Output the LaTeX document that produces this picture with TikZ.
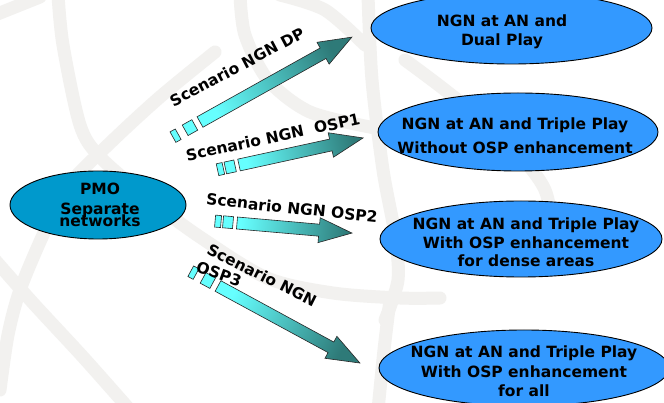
\documentclass[tikz,border=0pt]{standalone}
\usepackage{fontspec}
\setmainfont{DejaVu Sans}
\usetikzlibrary{shapes.geometric}
\definecolor{ellblue}{RGB}{51,153,255}
\definecolor{pmoblue}{RGB}{0,153,204}
\definecolor{arrcyan}{RGB}{102,255,255}
\definecolor{arrteal}{RGB}{46,122,120}
\definecolor{bgband}{RGB}{242,241,239}
\tikzset{
  ell/.style={ellipse, draw=black, line width=0.9pt, fill=ellblue, inner sep=0pt},
  pmo/.style={ell, fill=pmoblue},
  etext/.style={inner sep=0pt, align=center, font=\fontsize{15.5}{18.5}\selectfont\bfseries},
  lbl/.style={inner sep=0pt, font=\fontsize{15.5}{18.5}\selectfont\bfseries},
  arrbody/.style={left color=arrcyan, right color=arrteal, draw=black!85, line width=0.6pt, line join=miter},
  arrsq/.style={fill=arrcyan, draw=black!85, line width=0.6pt},
  band/.style={draw=bgband, line width=13pt, line cap=round}
}
\newcommand\scnarrow[8]{%
\begin{scope}[shift={(#1)},rotate=#2]
 \shadedraw[arrbody,shading angle=#8] (0,-6) -- ({#3-33},-6) -- ({#3-33},-12.5) -- (#3,0) -- ({#3-33},12.5) -- ({#3-33},6) -- (0,6) -- cycle;
 \draw[arrsq] (#4,-6) rectangle (#5,6);
 \draw[arrsq] (#6,-6) rectangle (#7,6);
\end{scope}}
\begin{document}
\begin{tikzpicture}[x=1pt,y=-1pt]
\useasboundingbox (0,0) rectangle (664,403);
\clip (0,0) rectangle (664,403);
\fill[white] (0,0) rectangle (664,403);
% watermark bands
\draw[band] plot[smooth] coordinates {(58,-5) (63,45) (80,125) (100,157) (150,200) (200,237) (267,278) (333,293) (400,298) (440,298)};
\draw[band] plot[smooth] coordinates {(215,52) (160,97) (110,143) (67,187) (43,235) (20,290) (8,335) (0,390)};
\draw[band] plot[smooth] coordinates {(-5,260) (33,303) (83,357) (130,410)};
\draw[band] plot[smooth] coordinates {(-5,15) (40,-3)};
\draw[band] plot[smooth] coordinates {(240,-5) (245,35) (268,80) (310,112) (375,128)};
\draw[band] plot[smooth] coordinates {(280,-5) (325,10) (365,45)};
\draw[band] plot[smooth] coordinates {(368,-5) (372,80) (383,170) (395,235) (398,280) (385,320)};
\draw[band] plot[smooth] coordinates {(405,60) (445,90) (500,135) (545,190) (555,260)};
\draw[band] plot[smooth] coordinates {(390,300) (384,350) (378,410)};
% ellipses
\node[pmo, minimum width=176, minimum height=68] (pmo) at (98,205) {};
\node[ell, minimum width=281, minimum height=72] (e1) at (511.5,28) {};
\node[ell, minimum width=280, minimum height=78] (e2) at (518,132) {};
\node[ell, minimum width=282, minimum height=76] (e3) at (521,239) {};
\node[ell, minimum width=290, minimum height=76] (e4) at (524,368) {};
\node[etext] (tp) at (100,205) {PMO\\[1.5pt]Separate\\[-6.5pt]networks};
\node[etext] (t1) at (502,32) {NGN at AN and\\Dual Play};
\node[etext] (t2) at (515,136) {NGN at AN and Triple Play\\[5.5pt]Without OSP enhancement};
\node[etext] (t3) at (526,242.5) {NGN at AN and Triple Play\\With OSP enhancement\\for dense areas};
\node[etext, font=\fontsize{15.5}{19.5}\selectfont\bfseries] (t4) at (524,371.5) {NGN at AN and Triple Play\\With OSP enhancement\\for all};
% arrows
\coordinate (a1) at (200,122);
\coordinate (a2) at (239,165);
\coordinate (a3) at (237,223);
\coordinate (a4) at (218,286);
\scnarrow{a1}{29.2}{174}{-17}{-6}{-31}{-25}{119.2}
\scnarrow{a2}{12.3}{127}{-14}{-4}{-22}{-16}{102.3}
\scnarrow{a3}{-5}{115.4}{-14}{-4}{-22}{-16}{85}
\scnarrow{a4}{-28.5}{161.5}{-17}{-6}{-31}{-25}{61.5}
% labels
\node[lbl, rotate=28] (l1) at (237,67) {Scenario NGN DP};
\node[lbl, rotate=12] (l2) at (273,137) {Scenario NGN\ \ OSP1};
\node[lbl, rotate=-6] (l3) at (292,208) {Scenario NGN OSP2};
\node[lbl, rotate=-26.6] (l4) at (262,275) {Scenario NGN};
\node[lbl, rotate=-20] (l5) at (219,274) {OSP3};
\end{tikzpicture}
\end{document}
